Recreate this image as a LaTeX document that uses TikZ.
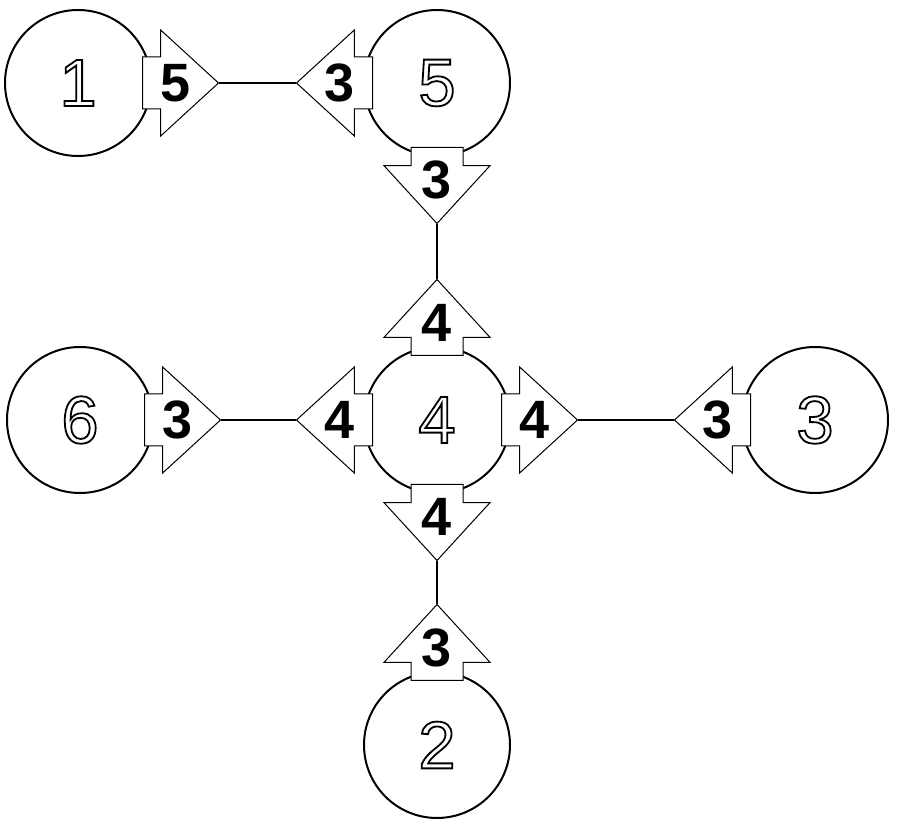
\documentclass[tikz,border=0pt]{standalone}
\usepackage{fontspec}
\setmainfont{Liberation Sans}
\usetikzlibrary{
        calc,
        positioning,
        shapes.arrows
    }
\tikzset{
    ball/.style={circle,draw,line width=2pt,minimum size=146pt,inner sep=0pt,
        font=\fontsize{67}{67}\selectfont},
    arr/.style={single arrow,draw,fill=white,line width=1pt,minimum height=76pt,
        inner xsep=0pt,inner ysep=25.5pt,single arrow head extend=27pt,
        single arrow tip angle=85,anchor=tail},
    num/.style={font=\fontsize{54}{54}\selectfont\bfseries,inner sep=0pt},
    link/.style={line width=1.5pt}
}
% stroked (hollow) digits
\newcommand{\hollow}[1]{\special{pdf:literal direct 1 Tr 1.8 w}#1\special{pdf:literal direct 0 Tr}}

\begin{document}
\begin{tikzpicture}[on grid]
    \useasboundingbox (0,0) rectangle (898pt,825pt);
    % circles
    \node[ball] (c4) at (437pt,405pt) {\hollow{4}};
    \node[ball] (c5) [above=337pt of c4] {\hollow{5}};
    \node[ball] (c1) [left=359pt of c5]  {\hollow{1}};
    \node[ball] (c6) [left=357pt of c4]  {\hollow{6}};
    \node[ball] (c3) [right=378pt of c4] {\hollow{3}};
    \node[ball] (c2) [below=325pt of c4] {\hollow{2}};
    % arrows
    \node[arr]            (t15) at ([xshift=-10pt]c1.east)  {};
    \node[arr,rotate=180] (t51) at ([xshift=10pt]c5.west)   {};
    \node[arr,rotate=-90] (t54) at ([yshift=10pt]c5.south)  {};
    \node[arr,rotate=90]  (t45) at ([yshift=-10pt]c4.north) {};
    \node[arr,rotate=180] (t46) at ([xshift=10pt]c4.west)   {};
    \node[arr]            (t43) at ([xshift=-10pt]c4.east)  {};
    \node[arr,rotate=-90] (t42) at ([yshift=10pt]c4.south)  {};
    \node[arr]            (t64) at ([xshift=-10pt]c6.east)  {};
    \node[arr,rotate=180] (t34) at ([xshift=10pt]c3.west)   {};
    \node[arr,rotate=90]  (t24) at ([yshift=-10pt]c2.north) {};
    % numbers
    \node[num] (l15) at ($(t15.tail)!.43!(t15.tip)$) {5};
    \node[num] (l51) at ($(t51.tail)!.43!(t51.tip)$) {3};
    \node[num] (l54) at ($(t54.tail)!.43!(t54.tip)$) {3};
    \node[num] (l45) at ($(t45.tail)!.43!(t45.tip)$) {4};
    \node[num] (l46) at ($(t46.tail)!.43!(t46.tip)$) {4};
    \node[num] (l43) at ($(t43.tail)!.43!(t43.tip)$) {4};
    \node[num] (l42) at ($(t42.tail)!.43!(t42.tip)$) {4};
    \node[num] (l64) at ($(t64.tail)!.43!(t64.tip)$) {3};
    \node[num] (l34) at ($(t34.tail)!.43!(t34.tip)$) {3};
    \node[num] (l24) at ($(t24.tail)!.43!(t24.tip)$) {3};
    % links
    \draw[link] (t15.tip) -- (t51.tip);
    \draw[link] (t54.tip) -- (t45.tip);
    \draw[link] (t64.tip) -- (t46.tip);
    \draw[link] (t43.tip) -- (t34.tip);
    \draw[link] (t42.tip) -- (t24.tip);
\end{tikzpicture}
\end{document}
